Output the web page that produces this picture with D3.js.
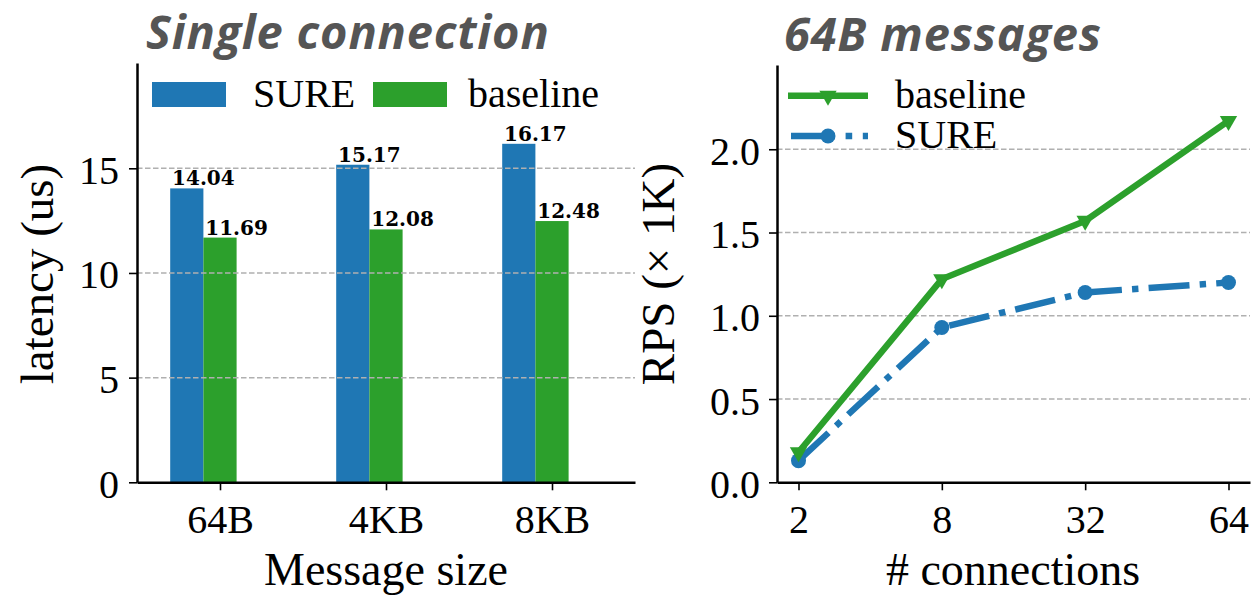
<!DOCTYPE html>
<html>
<head>
<meta charset="utf-8">
<script src="https://cdn.jsdelivr.net/npm/d3@7"></script>
<style>
    body { margin: 0; background: #fff; }
    text { font-family: 'Liberation Serif', 'Times New Roman', serif; }
</style>
</head>
<body>
<script>
    // left panel: latency per message size
    var sizes = ['64B', '4KB', '8KB'];
    var sureLatency = [14.04, 15.17, 16.17];
    var baseLatency = [11.69, 12.08, 12.48];
    var latTicks = [0, 5, 10, 15];

    // right panel: requests per second vs connections
    var conns = ['2', '8', '32', '64'];
    var baseRPS = [0.18, 1.22, 1.57, 2.17];
    var sureRPS = [0.13, 0.93, 1.14, 1.20];
    var rpsTicks = [0, 0.5, 1.0, 1.5, 2.0];

    var blue = '#1f77b4', green = '#2ca02c';

    var svg = d3.select('body').append('svg')
        .attr('width', 1256)
        .attr('height', 596);

    var base = 482.3;

    // ---------- left chart ----------
    var xL = d3.scaleLinear().domain([-0.2, 2.8]).range([137, 635]);
    var yL = d3.scaleLinear().domain([0, 20.03]).range([base, 63]);

    var gL = svg.append('g');

    var bars = [
        {name: 'SURE', vals: sureLatency, color: blue, off: 0},
        {name: 'baseline', vals: baseLatency, color: green, off: 0.2}
    ];
    bars.forEach(s => {
        gL.selectAll(null)
            .data(s.vals)
            .enter().append('rect')
            .attr('x', (d, i) => xL(i + s.off))
            .attr('y', d => yL(d))
            .attr('width', xL(0.2) - xL(0))
            .attr('height', d => base - yL(d))
            .attr('fill', s.color);
        gL.selectAll(null)
            .data(s.vals)
            .enter().append('text')
            .attr('x', (d, i) => xL(i + s.off + 0.2))
            .attr('y', d => yL(d) - 3)
            .attr('text-anchor', 'middle')
            .style('font-family', 'DejaVu Serif')
            .style('font-weight', 'bold')
            .style('font-size', '20px')
            .text(d => d.toFixed(2));
    });

    // grid above bars, like matplotlib's default
    gL.selectAll('line.grid')
        .data(latTicks.filter(d => d > 0))
        .enter().append('line')
        .attr('class', 'grid')
        .attr('x1', xL.range()[0]).attr('x2', xL.range()[1])
        .attr('y1', d => yL(d)).attr('y2', d => yL(d))
        .attr('stroke', '#b0b0b0')
        .attr('stroke-width', 1.5)
        .attr('stroke-dasharray', '5.5,2.5');

    var axL = gL.append('g')
        .attr('transform', 'translate(137,0)')
        .call(d3.axisLeft(yL).tickValues(latTicks).tickSize(8).tickSizeOuter(0));
    axL.selectAll('text').attr('x', -18).attr('dy', 15).attr('y', 0);

    var axLb = gL.append('g')
        .attr('transform', 'translate(0,' + base + ')')
        .call(d3.axisBottom(xL).tickValues([0.3, 1.3, 2.3]).tickFormat((d, i) => sizes[i])
            .tickSize(8).tickSizeOuter(0));
    axLb.selectAll('text').attr('y', 50.7).attr('dy', 0);

    // legend
    var legL = gL.append('g');
    [{name: 'SURE', color: blue, x: 152, tx: 253},
     {name: 'baseline', color: green, x: 373, tx: 468}].forEach(d => {
        legL.append('rect').attr('x', d.x).attr('y', 82).attr('width', 74).attr('height', 25)
            .attr('fill', d.color);
        legL.append('text').attr('x', d.tx).attr('y', 107).style('font-size', '40px').text(d.name);
    });

    gL.append('text')
        .attr('transform', 'translate(53,274) rotate(-90)')
        .attr('text-anchor', 'middle')
        .style('font-size', '47px')
        .text('latency (us)');
    gL.append('text')
        .attr('x', 386).attr('y', 585)
        .attr('text-anchor', 'middle')
        .style('font-size', '46px')
        .text('Message size');

    // ---------- right chart ----------
    var xR = d3.scaleLinear().domain([-0.15, 3.15]).range([777, 1250]);
    var yR = d3.scaleLinear().domain([0, 2.506]).range([base, 65]);

    var gR = svg.append('g');

    gR.selectAll('line.grid')
        .data(rpsTicks.filter(d => d > 0))
        .enter().append('line')
        .attr('class', 'grid')
        .attr('x1', xR.range()[0]).attr('x2', xR.range()[1])
        .attr('y1', d => yR(d)).attr('y2', d => yR(d))
        .attr('stroke', '#b0b0b0')
        .attr('stroke-width', 1.5)
        .attr('stroke-dasharray', '5.5,2.5');

    var line = d3.line()
        .x((d, i) => xR(i))
        .y(d => yR(d));

    var lw = 6.4;
    var tri = d3.symbol().type(d3.symbolTriangle).size(130);

    gR.append('path')
        .datum(sureRPS)
        .attr('d', line)
        .attr('fill', 'none')
        .attr('stroke', blue)
        .attr('stroke-width', lw)
        .attr('stroke-dasharray', '41,10.2,6.4,10.2');
    gR.selectAll('circle.sure')
        .data(sureRPS)
        .enter().append('circle')
        .attr('class', 'sure')
        .attr('cx', (d, i) => xR(i))
        .attr('cy', d => yR(d))
        .attr('r', 7.5)
        .attr('fill', blue);

    gR.append('path')
        .datum(baseRPS)
        .attr('d', line)
        .attr('fill', 'none')
        .attr('stroke', green)
        .attr('stroke-width', lw);
    gR.selectAll('path.tri')
        .data(baseRPS)
        .enter().append('path')
        .attr('class', 'tri')
        .attr('d', tri)
        .attr('transform', (d, i) => 'translate(' + xR(i) + ',' + yR(d) + ') rotate(180)')
        .attr('fill', green);

    var axR = gR.append('g')
        .attr('transform', 'translate(777,0)')
        .call(d3.axisLeft(yR).tickValues(rpsTicks).tickFormat(d3.format('.1f'))
            .tickSize(8).tickSizeOuter(0));
    axR.selectAll('text').attr('x', -17).attr('dy', 15).attr('y', 0);

    var axRb = gR.append('g')
        .attr('transform', 'translate(0,' + base + ')')
        .call(d3.axisBottom(xR).tickValues([0, 1, 2, 3]).tickFormat((d, i) => conns[i])
            .tickSize(8).tickSizeOuter(0));
    axRb.selectAll('text').attr('y', 50.7).attr('dy', 0);

    // legend
    var legR = gR.append('g');
    legR.append('line').attr('x1', 788).attr('x2', 868).attr('y1', 95.7).attr('y2', 95.7)
        .attr('stroke', green).attr('stroke-width', lw);
    legR.append('path').attr('d', tri)
        .attr('transform', 'translate(828,95.7) rotate(180)').attr('fill', green);
    legR.append('text').attr('x', 895).attr('y', 108).style('font-size', '40px').text('baseline');
    legR.append('line').attr('x1', 791).attr('x2', 868).attr('y1', 136).attr('y2', 136)
        .attr('stroke', blue).attr('stroke-width', lw)
        .attr('stroke-dasharray', '44,10.6,6.6,10.6');
    legR.append('circle').attr('cx', 828).attr('cy', 136).attr('r', 7.5).attr('fill', blue);
    legR.append('text').attr('x', 895).attr('y', 148).style('font-size', '40px').text('SURE');

    gR.append('text')
        .attr('transform', 'translate(674,274) rotate(-90)')
        .attr('text-anchor', 'middle')
        .style('font-size', '47px')
        .text('RPS (\u00d7 1K)');
    gR.append('text')
        .attr('x', 1013).attr('y', 585)
        .attr('text-anchor', 'middle')
        .style('font-size', '46px')
        .text('# connections');

    // shared axis styling
    svg.selectAll('.domain').attr('stroke', '#000').attr('stroke-width', 2.5);
    svg.selectAll('.tick line').attr('stroke', '#000').attr('stroke-width', 1.6);
    svg.selectAll('.tick text')
        .style('font-family', "'Liberation Serif', serif")
        .style('font-size', '40px')
        .attr('fill', '#000');

    // panel titles
    [{t: 'Single connection', x: 146, y: 49}, {t: '64B messages', x: 784, y: 51}].forEach(d => {
        svg.append('text')
            .attr('x', d.x).attr('y', d.y)
            .style('font-family', "'Open Sans', sans-serif")
            .style('font-style', 'italic')
            .style('font-weight', 'bold')
            .style('font-size', '47px')
            .style('letter-spacing', '0.8px')
            .attr('fill', '#555')
            .text(d.t);
    });
</script>
</body>
</html>
